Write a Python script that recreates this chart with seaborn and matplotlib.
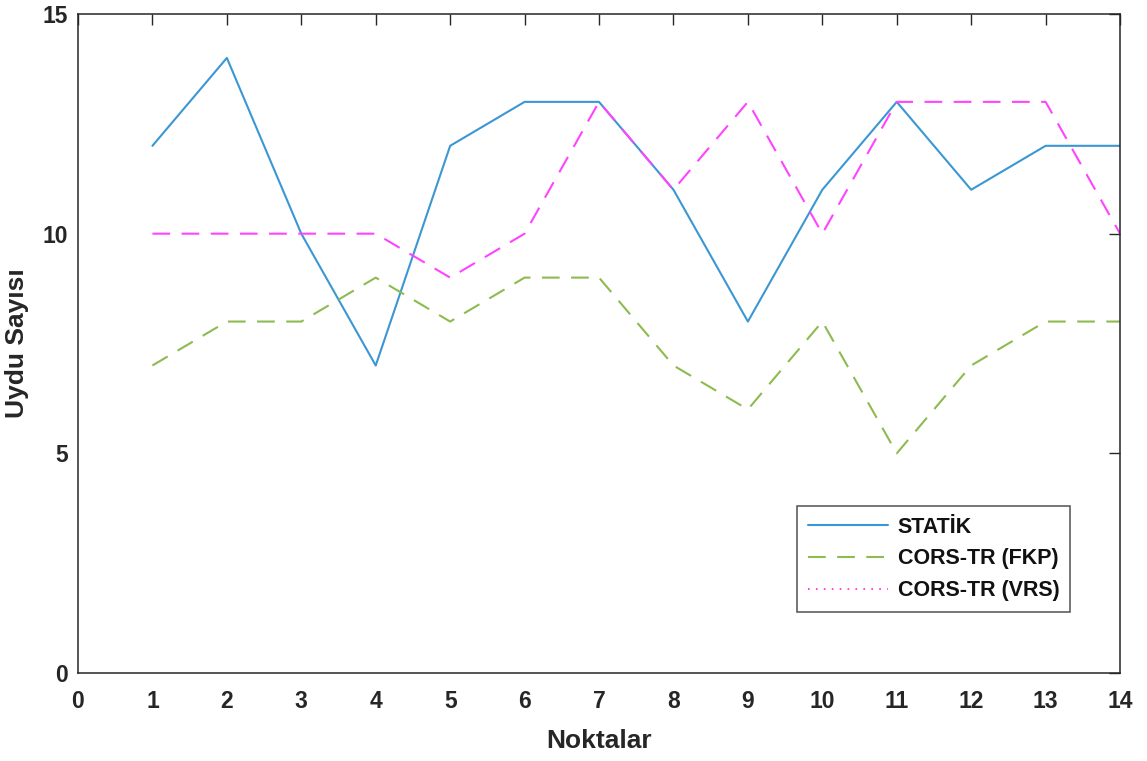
import matplotlib
matplotlib.use("Agg")
import matplotlib.pyplot as plt
from matplotlib.lines import Line2D
import seaborn as sns
import pandas as pd

noktalar = list(range(1, 15))
statik = [12, 14, 10, 7, 12, 13, 13, 11, 8, 11, 13, 11, 12, 12]
fkp = [7, 8, 8, 9, 8, 9, 9, 7, 6, 8, 5, 7, 8, 8]
vrs = [10, 10, 10, 10, 9, 10, 13, 11, 13, 10, 13, 13, 13, 10]
labels = ["STATİK", "CORS-TR (FKP)", "CORS-TR (VRS)"]
x_ticks = list(range(0, 15))
y_ticks = [0, 5, 10, 15]

sns.set_style("white")
plt.rcParams["font.family"] = ["Liberation Sans", "DejaVu Sans"]
plt.rcParams["font.weight"] = "bold"

c_blue = "#3b97d3"
c_green = "#8dbb4f"
c_mag = "#ff44ff"
txt = "#262626"
lw = 1.5
dash = (0, (8.5, 5.5))

fig = plt.figure(figsize=(11.47, 7.61), dpi=100)
ax = fig.add_axes([0.068, 0.1156, 0.9085, 0.866])

df = pd.DataFrame({"x": noktalar, "statik": statik, "fkp": fkp, "vrs": vrs})
sns.lineplot(data=df, x="x", y="statik", ax=ax, color=c_blue, linewidth=lw)
sns.lineplot(data=df, x="x", y="fkp", ax=ax, color=c_green, linewidth=lw,
             linestyle=dash)
sns.lineplot(data=df, x="x", y="vrs", ax=ax, color=c_mag, linewidth=lw,
             linestyle=dash)

ax.set_xlim(0, 14)
ax.set_ylim(0, 15)
ax.set_xticks(x_ticks)
ax.set_yticks(y_ticks)
ax.tick_params(direction="in", length=8, width=1, colors=txt, labelsize=16.5,
               top=True, right=True, labeltop=False, labelright=False)
ax.tick_params(axis="x", pad=12)
ax.tick_params(axis="y", pad=7)
for lab in ax.get_xticklabels() + ax.get_yticklabels():
    lab.set_fontweight("bold")
for sp in ax.spines.values():
    sp.set_color(txt)
    sp.set_linewidth(1.1)
    sp.set_visible(True)

ax.set_xlabel("Noktalar", fontsize=19, fontweight="bold", color=txt, labelpad=12)
ax.set_ylabel("Uydu Sayısı", fontsize=19, fontweight="bold", color=txt)
ax.yaxis.set_label_coords(-0.047, 0.5)

handles = [
    Line2D([], [], color=c_blue, linewidth=lw),
    Line2D([], [], color=c_green, linewidth=lw, linestyle=dash),
    Line2D([], [], color=c_mag, linewidth=lw, linestyle=(0, (0.8, 3))),
]
leg = ax.legend(handles, labels, loc="lower right", bbox_to_anchor=(0.952, 0.0926),
                fontsize=15.5, frameon=True, fancybox=False, handlelength=3.7,
                borderpad=0.5, labelspacing=0.5, handletextpad=0.45,
                borderaxespad=0)
leg.get_frame().set_edgecolor(txt)
leg.get_frame().set_linewidth(1.1)
for t in leg.get_texts():
    t.set_fontweight("bold")
    t.set_color("#111111")

fig.savefig("out.png", dpi=100)
